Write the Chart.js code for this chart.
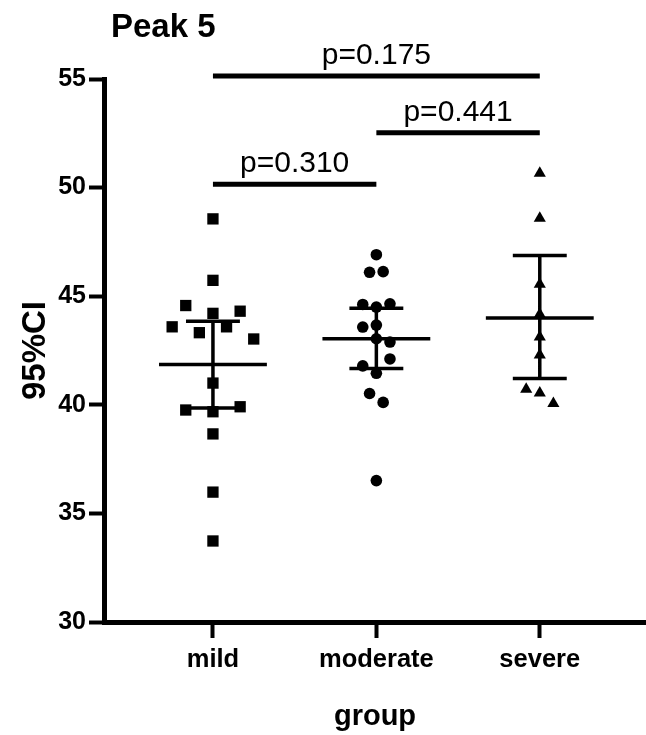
<!DOCTYPE html>
<html>
<head>
<meta charset="utf-8">
<title>Peak 5</title>
<script src="https://cdn.jsdelivr.net/npm/chart.js@4.4.1/dist/chart.umd.min.js"></script>
<style>
  html, body { margin: 0; padding: 0; background: #fff; }
  canvas { display: block; }
</style>
</head>
<body>
<canvas id="peakChart" width="646" height="735"></canvas>
<script>
// groups and axis
const groups = ['mild', 'moderate', 'severe'];
const yTicks = [30, 35, 40, 45, 50, 55];

// individual values, with their swarm slot (half-steps left/right of the group centre)
const mildValues = [48.56, 45.73, 44.57, 44.21, 44.31, 43.59, 43.32, 43.59, 43.03, 41.00, 39.76, 39.68, 39.91, 38.66, 35.98, 33.73];
const mildSlots  = [0, 0, -4, 0, 4, -6, -2, 2, 6, 0, -4, 0, 4, 0, 0, 0];
const moderateValues = [46.91, 46.10, 46.13, 44.62, 44.50, 44.65, 43.58, 43.67, 43.04, 42.89, 42.11, 41.79, 41.45, 40.52, 40.11, 36.51];
const moderateSlots  = [0, -1, 1, -2, 0, 2, -2, 0, 0, 2, 2, -2, 0, -1, 1, 0];
const severeValues = [50.66, 48.59, 45.55, 44.17, 43.12, 42.29, 40.72, 40.54, 40.06];
const severeSlots  = [0, 0, 0, 0, 0, 0, -2, 0, 2];

// mean and 95% CI per group
const groupMeans = [41.85, 43.04, 44.00];
const ciLow  = [39.85, 41.67, 41.21];
const ciHigh = [43.85, 44.44, 46.87];

// significance brackets
const pairFrom   = [1, 2, 1];
const pairTo     = [2, 3, 3];
const pairLevel  = [50.15, 52.52, 55.14];
const pairLabels = ['p=0.310', 'p=0.441', 'p=0.175'];

const FONT = 'Arial, "Liberation Sans", Helvetica, sans-serif';
const slotStep = 0.0416;
const meanHalf = 0.33;
const capHalf = 0.165;

function swarm(group, values, slots) {
  return values.map((v, i) => ({ x: group + slots[i] * slotStep, y: v }));
}

function errorBars() {
  const pts = [];
  groupMeans.forEach((m, i) => {
    const g = i + 1;
    pts.push({ x: g - meanHalf, y: m }, { x: g + meanHalf, y: m }, { x: g, y: null });
    pts.push({ x: g - capHalf, y: ciHigh[i] }, { x: g + capHalf, y: ciHigh[i] }, { x: g, y: null });
    pts.push({ x: g - capHalf, y: ciLow[i] }, { x: g + capHalf, y: ciLow[i] }, { x: g, y: null });
    pts.push({ x: g, y: ciLow[i] }, { x: g, y: ciHigh[i] }, { x: g, y: null });
  });
  return pts;
}

function brackets() {
  const pts = [];
  pairFrom.forEach((f, i) => {
    pts.push({ x: f, y: pairLevel[i] }, { x: pairTo[i], y: pairLevel[i] }, { x: pairTo[i], y: null });
  });
  return pts;
}

const annotations = {
  id: 'annotations',
  afterDraw(chart) {
    const { ctx, scales: { x, y } } = chart;
    ctx.save();
    ctx.fillStyle = '#000';
    ctx.textAlign = 'left';
    ctx.textBaseline = 'middle';
    ctx.font = 'bold 33px ' + FONT;
    ctx.fillText('Peak 5', 111, 28);
    ctx.font = '30px ' + FONT;
    ctx.textAlign = 'center';
    ctx.textBaseline = 'alphabetic';
    pairLabels.forEach((t, i) => {
      const cx = (x.getPixelForValue(pairFrom[i]) + x.getPixelForValue(pairTo[i])) / 2;
      ctx.fillText(t, cx, y.getPixelForValue(pairLevel[i]) - 12);
    });
    ctx.restore();
  },
};

const lineStyle = { type: 'line', showLine: true, borderColor: '#000', pointRadius: 0, fill: false, spanGaps: false, clip: false };

new Chart(document.getElementById('peakChart'), {
  type: 'scatter',
  data: {
    datasets: [
      { ...lineStyle, data: errorBars(), borderWidth: 3.5 },
      { ...lineStyle, data: brackets(), borderWidth: 5, borderCapStyle: 'butt' },
      { data: swarm(1, mildValues, mildSlots), pointStyle: 'rect', pointRadius: 8, backgroundColor: '#000', borderWidth: 0 },
      { data: swarm(2, moderateValues, moderateSlots), pointStyle: 'circle', pointRadius: 5.8, backgroundColor: '#000', borderWidth: 0 },
      { data: swarm(3, severeValues, severeSlots), pointStyle: 'triangle', pointRadius: 7, backgroundColor: '#000', borderWidth: 0 },
    ],
  },
  options: {
    responsive: false,
    animation: false,
    devicePixelRatio: 1,
    layout: { autoPadding: false, padding: { top: 79, left: 0, right: 0, bottom: 0 } },
    plugins: { legend: { display: false }, tooltip: { enabled: false } },
    scales: {
      x: {
        type: 'linear', min: 1 / 3, max: 3.65,
        afterBuildTicks: axis => { axis.ticks = groups.map((g, i) => ({ value: i + 1 })); },
        afterFit: axis => { axis.height = 113; axis.paddingLeft = 0; axis.paddingRight = 0; },
        border: { color: '#000', width: 5 },
        grid: { drawOnChartArea: false, drawTicks: true, tickLength: 16, tickWidth: 4, tickColor: '#000' },
        ticks: { color: '#000', padding: 7, font: { family: FONT, size: 25.5, weight: 'bold' }, callback: v => groups[v - 1] || '' },
        title: { display: true, text: 'group', color: '#000', padding: { top: 0, bottom: 1 }, font: { family: FONT, size: 29, weight: 'bold' } },
      },
      y: {
        min: 30, max: 55,
        afterBuildTicks: axis => { axis.ticks = yTicks.map(v => ({ value: v })); },
        afterFit: axis => { axis.width = 104; },
        border: { color: '#000', width: 5 },
        grid: { drawOnChartArea: false, drawTicks: true, tickLength: 15, tickWidth: 4, tickColor: '#000' },
        ticks: { color: '#000', padding: 3, font: { family: FONT, size: 25, weight: 'bold' } },
        title: { display: true, text: '95%CI', color: '#000', padding: { top: 16, bottom: 0 }, font: { family: FONT, size: 33, weight: 'bold' } },
      },
    },
  },
  plugins: [annotations],
});
</script>
</body>
</html>
